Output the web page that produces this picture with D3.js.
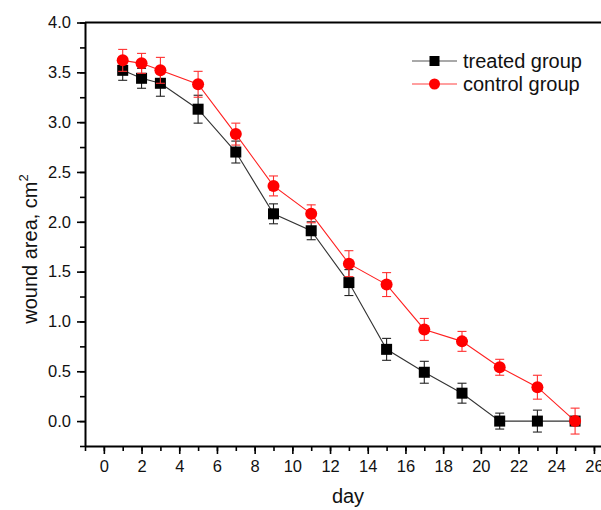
<!DOCTYPE html>
<html>
<head>
<meta charset="utf-8">
<script src="https://cdn.jsdelivr.net/npm/d3@7"></script>
<style>
    body { margin: 0; background: #fff; }
    svg { display: block; font-family: 'Liberation Sans', Arial, sans-serif; }
</style>
</head>
<body>
<svg id="chart"></svg>
<script>
const days = [1, 2, 3, 5, 7, 9, 11, 13, 15, 17, 19, 21, 23, 25]
const treated = [3.52, 3.44, 3.39, 3.13, 2.70, 2.08, 1.91, 1.39, 0.72, 0.49, 0.28, 0.0, 0.0, 0.0]
const treatedErr = [0.10, 0.10, 0.13, 0.14, 0.11, 0.10, 0.09, 0.13, 0.11, 0.11, 0.10, 0.08, 0.11, 0.0]
const control = [3.62, 3.59, 3.52, 3.38, 2.88, 2.36, 2.08, 1.58, 1.37, 0.92, 0.80, 0.54, 0.34, 0.0]
const controlErr = [0.11, 0.10, 0.13, 0.13, 0.11, 0.10, 0.09, 0.13, 0.12, 0.11, 0.10, 0.08, 0.12, 0.13]
const xTicks = d3.range(0, 27, 2)
const xMinorTicks = d3.range(-1, 28, 1)
const yTicks = [0.0, 0.5, 1.0, 1.5, 2.0, 2.5, 3.0, 3.5, 4.0]
const yMinorTicks = d3.range(-0.25, 4.01, 0.25)

const WIDTH = 601
const HEIGHT = 510

const svg = d3.select('#chart')
    .attr('width', WIDTH)
    .attr('height', HEIGHT)

const xScale = d3.scaleLinear().domain([-1, 27]).range([85, 85 + 28 * 18.85])
const yScale = d3.scaleLinear().domain([-0.25, 4.0]).range([446, 22.5])

const plotLeft = xScale.range()[0]
const plotBottom = yScale.range()[0]
const plotTop = yScale.range()[1]

// minor ticks first, then major axes over them
svg.append('g')
    .attr('transform', `translate(0,${plotBottom})`)
    .call(d3.axisBottom(xScale).tickValues(xMinorTicks).tickSize(5).tickFormat(''))
    .call(g => g.select('.domain').remove())
svg.append('g')
    .attr('transform', `translate(${plotLeft},0)`)
    .call(d3.axisLeft(yScale).tickValues(yMinorTicks).tickSize(5).tickFormat(''))
    .call(g => g.select('.domain').remove())

svg.append('g')
    .attr('transform', `translate(0,${plotBottom})`)
    .call(d3.axisBottom(xScale).tickValues(xTicks).tickSize(8).tickSizeOuter(0).tickPadding(6))
svg.append('g')
    .attr('transform', `translate(${plotLeft},0)`)
    .call(d3.axisLeft(yScale).tickValues(yTicks).tickSize(8).tickSizeOuter(0).tickPadding(6)
        .tickFormat(d3.format('.1f')))

svg.selectAll('.tick line').attr('stroke', '#000').attr('stroke-width', 1.6)
svg.selectAll('.domain').attr('stroke', '#000').attr('stroke-width', 2)
svg.selectAll('.tick text').attr('font-size', 16.5).attr('fill', '#111')
    .attr('font-family', "'Liberation Sans', Arial, sans-serif")

// top frame line
svg.append('line')
    .attr('x1', plotLeft).attr('x2', WIDTH + 10)
    .attr('y1', plotTop).attr('y2', plotTop)
    .attr('stroke', '#000').attr('stroke-width', 2)

// axis titles
svg.append('text')
    .attr('x', 348).attr('y', 503)
    .attr('text-anchor', 'middle')
    .attr('font-size', 20)
    .attr('fill', '#111')
    .text('day')

const yTitle = svg.append('text')
    .attr('transform', 'translate(37,249) rotate(-90)')
    .attr('text-anchor', 'middle')
    .attr('font-size', 20)
    .attr('fill', '#111')
yTitle.append('tspan').text('wound area, cm')
yTitle.append('tspan').attr('font-size', 13).attr('dy', -9).text('2')

function drawSeries(values, errs, color, lineColor, errColor, shape) {
    const pts = days.map((d, i) => ({ x: d, y: values[i], e: errs[i] }))
    const g = svg.append('g')

    g.append('path')
        .datum(pts)
        .attr('fill', 'none')
        .attr('stroke', lineColor)
        .attr('stroke-width', 1.1)
        .attr('d', d3.line().x(p => xScale(p.x)).y(p => yScale(p.y)))

    const eb = g.selectAll('.err')
        .data(pts.filter(p => p.e > 0))
        .join('g')
        .attr('stroke', errColor)
        .attr('stroke-width', 1.1)
    eb.append('line')
        .attr('x1', p => xScale(p.x)).attr('x2', p => xScale(p.x))
        .attr('y1', p => yScale(p.y + p.e)).attr('y2', p => yScale(p.y - p.e))
    eb.append('line')
        .attr('x1', p => xScale(p.x) - 4.5).attr('x2', p => xScale(p.x) + 4.5)
        .attr('y1', p => yScale(p.y + p.e)).attr('y2', p => yScale(p.y + p.e))
    eb.append('line')
        .attr('x1', p => xScale(p.x) - 4.5).attr('x2', p => xScale(p.x) + 4.5)
        .attr('y1', p => yScale(p.y - p.e)).attr('y2', p => yScale(p.y - p.e))

    if (shape === 'square') {
        g.selectAll('.pt').data(pts).join('rect')
            .attr('x', p => xScale(p.x) - 5.5).attr('y', p => yScale(p.y) - 5.5)
            .attr('width', 11).attr('height', 11)
            .attr('fill', color)
    } else {
        g.selectAll('.pt').data(pts).join('circle')
            .attr('cx', p => xScale(p.x)).attr('cy', p => yScale(p.y))
            .attr('r', 6)
            .attr('fill', color)
    }
}

drawSeries(treated, treatedErr, '#000', '#333', '#222', 'square')
drawSeries(control, controlErr, '#ff0000', '#ff2020', '#ff3030', 'circle')

// legend
const legend = svg.append('g')
const legendItems = [
    { label: 'treated group', color: '#000', lineColor: '#555', shape: 'square', y: 61 },
    { label: 'control group', color: '#ff0000', lineColor: '#ff4040', shape: 'circle', y: 84 },
]
legendItems.forEach(item => {
    legend.append('line')
        .attr('x1', 412).attr('x2', 457)
        .attr('y1', item.y).attr('y2', item.y)
        .attr('stroke', item.lineColor).attr('stroke-width', 1.1)
    if (item.shape === 'square') {
        legend.append('rect')
            .attr('x', 434.5 - 5).attr('y', item.y - 5)
            .attr('width', 10).attr('height', 10)
            .attr('fill', item.color)
    } else {
        legend.append('circle')
            .attr('cx', 434.5).attr('cy', item.y).attr('r', 5.5)
            .attr('fill', item.color)
    }
    legend.append('text')
        .attr('x', 463).attr('y', item.y + 7)
        .attr('font-size', 20)
        .attr('fill', '#111')
        .text(item.label)
})
</script>
</body>
</html>
